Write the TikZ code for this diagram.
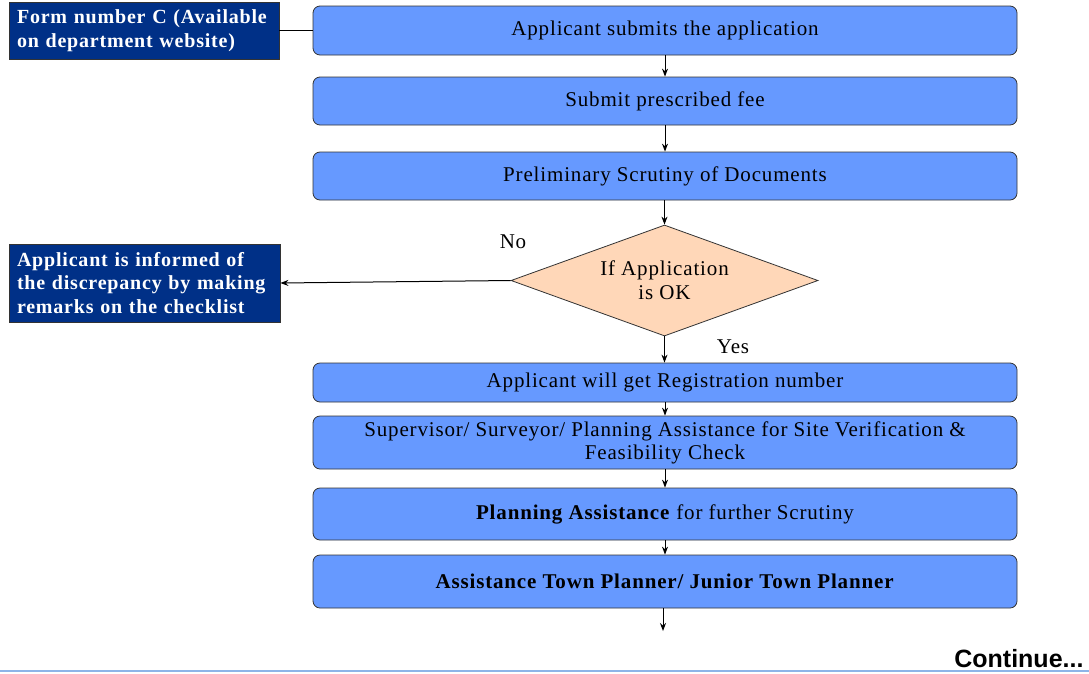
\documentclass[tikz,border=0pt]{standalone}
\usepackage{fontspec}
\setmainfont[LetterSpace=4]{Liberation Serif}
\newfontfamily\arialfont{Liberation Sans}
\usetikzlibrary{shapes.geometric,arrows.meta}
\definecolor{boxblue}{HTML}{6699FF}
\definecolor{navy}{HTML}{003087}
\definecolor{peach}{HTML}{FFD7B8}
\definecolor{lineblue}{HTML}{8DB4E8}
\tikzset{
  x=1pt,y=-1pt,
  flowbox/.style={draw=black!80,fill=boxblue,rounded corners=7pt,line width=0.8pt,
    minimum width=704pt,align=center,inner sep=0pt,
    font=\fontsize{21}{23}\selectfont},
  navybox/.style={draw=black!80,fill=navy,text=white,line width=0.8pt,align=left,
    inner sep=0pt,font=\fontsize{20}{23.5}\selectfont\bfseries},
  arr/.style={-{Stealth[length=8pt,width=6pt]},line width=1pt},
  lbl/.style={font=\fontsize{21}{24}\selectfont}
}
\begin{document}
\begin{tikzpicture}
\useasboundingbox (0,0) rectangle (1089,673);
\node[navybox,minimum width=270pt,minimum height=57pt,text width=254pt] (form) at (144,30.5) {Form number C (Available\\on department website)};
\node[flowbox,minimum height=49pt] (b1) at (665,30.5) {Applicant submits the application};
\node[flowbox,minimum height=48pt] (b2) at (665,101) {Submit prescribed fee};
\node[flowbox,minimum height=48pt] (b3) at (665,176) {Preliminary Scrutiny of Documents};
\node[diamond,draw=black!80,fill=peach,line width=0.8pt,minimum width=307pt,minimum height=111pt,inner sep=0pt,aspect=2.77,align=center,lbl] (d) at (664.5,280.5) {If Application\\is OK};
\node[navybox,minimum width=271pt,minimum height=78pt,text width=255pt] (info) at (144.5,283) {Applicant is informed of\\the discrepancy by making\\remarks on the checklist};
\node[flowbox,minimum height=39pt] (b4) at (665,382.5) {Applicant will get Registration number};
\node[flowbox,minimum height=53pt] (b5) at (665,442.5) {Supervisor/ Surveyor/ Planning Assistance for Site Verification \&\\Feasibility Check};
\node[flowbox,minimum height=52pt] (b6) at (665,514) {\textbf{Planning Assistance} for further Scrutiny};
\node[flowbox,minimum height=53pt] (b7) at (665,581.5) {\textbf{Assistance Town Planner/ Junior Town Planner}};
\coordinate (end) at (663,631);
\node[lbl] (no) at (513,242) {No};
\node[lbl] (yes) at (733,347) {Yes};
\node[font=\arialfont\fontsize{25}{28}\selectfont\bfseries,anchor=east] (cont) at (1087,659) {Continue...};
\draw[line width=0.8pt] (form.east) -- (b1.west);
\draw[arr] (b1.south) -- (b2.north);
\draw[arr] (b2.south) -- (b3.north);
\draw[arr] (b3.south -| d.north) -- (d.north);
\draw[arr] (d.west) -- (info.east);
\draw[arr] (d.south) -- (b4.north -| d.south);
\draw[arr] (b4.south) -- (b5.north);
\draw[arr] (b5.south) -- (b6.north);
\draw[arr] (b6.south) -- (b7.north);
\draw[arr] (b7.south -| end) -- (end);
\draw[lineblue,line width=1.5pt] (0,671) -- (1089,671);
\end{tikzpicture}
\end{document}
